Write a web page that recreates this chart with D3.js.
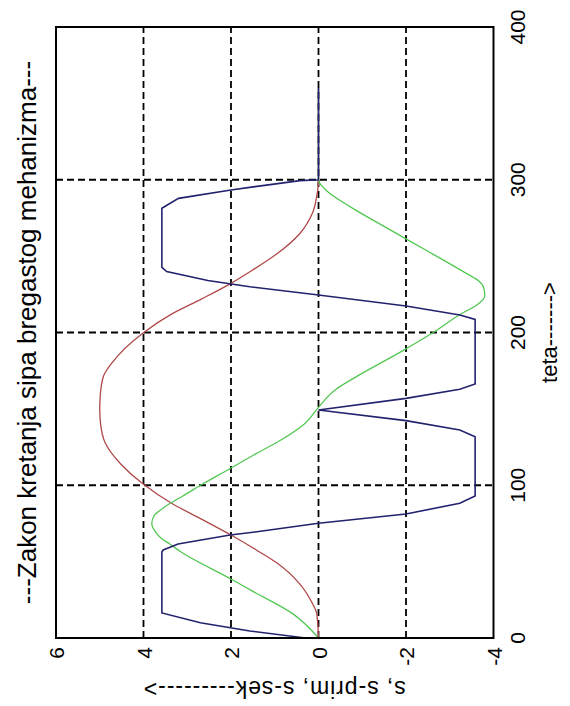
<!DOCTYPE html>
<html>
<head>
<meta charset="utf-8">
<script src="https://cdn.jsdelivr.net/npm/d3@7"></script>
<style>
  body { margin: 0; background: #fff; }
  text { font-family: "Liberation Sans", Arial, sans-serif; fill: #000; }
</style>
</head>
<body>
<svg width="570" height="706"></svg>
<script>
const W = 570, H = 706;

// teta (deg) and values
const tetaS = [0, 16, 22.7, 35.8, 48.9, 57.6, 67.4, 77.3, 88.2, 100.6, 113.3, 128, 140, 150, 158, 171, 179.8, 199.9, 212, 222, 232.2, 241, 251.5, 265, 278, 291, 300, 360];
const s     = [0, 0.04, 0.14, 0.44, 0.94, 1.42, 2.0, 2.64, 3.36, 4.0, 4.5, 4.88, 4.98, 5.0, 4.99, 4.92, 4.73, 4.0, 3.36, 2.67, 2.0, 1.5, 0.95, 0.42, 0.14, 0.03, 0, 0];

const tetaV = [0, 16.1, 31, 38, 56.5, 61.5, 65, 70, 75, 80, 84, 88.2, 93, 101.3, 110, 119.8, 129.6, 140, 151, 162.8, 170, 188.5, 200.5, 212.6, 218, 224, 229, 234, 240, 254, 267, 282.4, 292, 300, 360];
const sPrim = [0, 0.6, 1.53, 1.96, 3.15, 3.4, 3.58, 3.74, 3.81, 3.76, 3.6, 3.39, 3.1, 2.62, 2.08, 1.48, 0.86, 0.33, 0, -0.4, -0.8, -1.95, -2.65, -3.28, -3.62, -3.8, -3.78, -3.65, -3.3, -2.45, -1.65, -0.72, -0.22, 0, 0];

const tetaA = [0, 4.6, 10, 16.4, 56.3, 57.6, 61.5, 67.4, 69.4, 75.1, 81.2, 88.2, 93, 131.8, 136.2, 142.3, 149.3, 156.9, 162.8, 166.3, 208.6, 211.5, 217.3, 224.5, 230, 234, 239.9, 242.7, 281.3, 287.8, 293.3, 295.5, 299.4, 300, 360];
const sSek  = [0.3, 1.57, 2.7, 3.58, 3.58, 3.55, 3.21, 2.02, 1.45, 0, -2, -3.23, -3.58, -3.58, -3.23, -2, 0, -2, -3.23, -3.58, -3.58, -3.23, -2, 0, 1.57, 2.53, 3.47, 3.58, 3.58, 3.2, 2.0, 1.45, 0.42, 0, 0];

const tetaTicks = [0, 100, 200, 300, 400];
const valTicks = [6, 4, 2, 0, -2, -4];

// the whole figure is drawn landscape and turned a quarter to the left
const svg = d3.select("svg");
const g = svg.append("g")
  .attr("transform", "translate(0," + H + ") rotate(-90)");

const x = d3.scaleLinear().domain([0, 400]).range([68, 679]);
const y = d3.scaleLinear().domain([-4, 6]).range([493.5, 56]);

// grid
g.selectAll(".gx")
  .data(tetaTicks.filter(d => d > 0 && d < 400))
  .enter().append("line")
  .attr("x1", d => x(d)).attr("x2", d => x(d))
  .attr("y1", y(6)).attr("y2", y(-4))
  .attr("stroke", "#000").attr("stroke-width", 1.8)
  .attr("stroke-dasharray", "7,4");

g.selectAll(".gy")
  .data(valTicks.filter(d => d > -4 && d < 6))
  .enter().append("line")
  .attr("y1", d => y(d)).attr("y2", d => y(d))
  .attr("x1", x(0)).attr("x2", x(400))
  .attr("stroke", "#000").attr("stroke-width", 1.8)
  .attr("stroke-dasharray", "7,4");

// curves
const line = d3.line().x(d => x(d[0])).y(d => y(d[1]));
const smooth = d3.line().x(d => x(d[0])).y(d => y(d[1])).curve(d3.curveMonotoneX);

g.append("path")
  .attr("d", smooth(d3.zip(tetaS, s)))
  .attr("fill", "none").attr("stroke", "#b04848").attr("stroke-width", 1.3);

g.append("path")
  .attr("d", smooth(d3.zip(tetaV, sPrim)))
  .attr("fill", "none").attr("stroke", "#52c852").attr("stroke-width", 1.3);

g.append("path")
  .attr("d", line(d3.zip(tetaA, sSek)))
  .attr("fill", "none").attr("stroke", "#22226e").attr("stroke-width", 1.6);

// box
g.append("rect")
  .attr("x", x(0)).attr("y", y(6))
  .attr("width", x(400) - x(0)).attr("height", y(-4) - y(6))
  .attr("fill", "none").attr("stroke", "#000").attr("stroke-width", 2);

// tick labels
g.selectAll(".tx")
  .data(tetaTicks)
  .enter().append("text")
  .attr("x", d => x(d)).attr("y", 525)
  .attr("text-anchor", "middle")
  .style("font-size", "21px")
  .text(d => d);

g.selectAll(".ty")
  .data(valTicks)
  .enter().append("text")
  .attr("x", 59).attr("y", d => y(d) + 8)
  .attr("text-anchor", "end")
  .style("font-size", "21px")
  .text(d => d);

// title and labels
g.append("text")
  .attr("x", (x(0) + x(400)) / 2).attr("y", 36)
  .attr("text-anchor", "middle")
  .style("font-size", "26px")
  .text("---Zakon kretanja sipa bregastog mehanizma---");

g.append("text")
  .attr("x", (x(0) + x(400)) / 2).attr("y", 557)
  .attr("text-anchor", "middle")
  .style("font-size", "22px")
  .text("teta------->");

g.append("text")
  .attr("transform", "translate(25," + (y(-4) + y(6)) / 2 + ") rotate(-90)")
  .attr("text-anchor", "middle")
  .attr("textLength", 262)
  .attr("lengthAdjust", "spacing")
  .style("font-size", "23px")
  .text("s,  s-prim,  s-sek--------->");
</script>
</body>
</html>
